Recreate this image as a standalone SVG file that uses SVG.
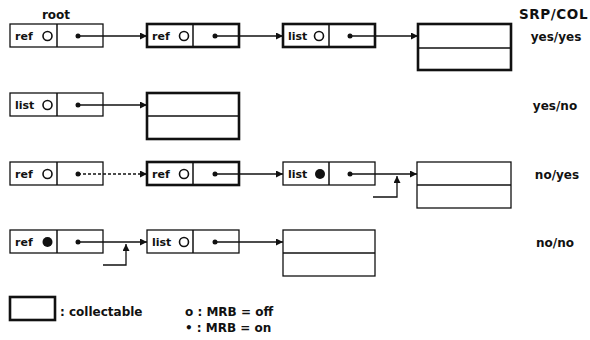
<svg xmlns="http://www.w3.org/2000/svg" width="590" height="340" viewBox="0 0 590 340">
<style>
text{font-family:"DejaVu Sans","Liberation Sans",sans-serif;font-weight:bold;fill:#111}
.n{fill:#fff;stroke:#111;stroke-width:1.3}
.t{fill:#fff;stroke:#111;stroke-width:2.6}
.d{stroke:#111;stroke-width:1.5}
.lbl{font-size:11px}
.side{font-size:12px}
.off{fill:#fff;stroke:#111;stroke-width:1.6}
.on{fill:#111}
.dot{fill:#111}
.c{fill:none;stroke:#111;stroke-width:1.3}
.dash{stroke-dasharray:3 2}
</style>
<defs>
<marker id="ah" viewBox="0 0 10 10" refX="10" refY="5" markerWidth="9" markerHeight="7" markerUnits="userSpaceOnUse" orient="auto">
<path d="M0,0 L10,5 L0,10 z" fill="#111"/>
</marker>
</defs>
<rect width="590" height="340" fill="#fff"/>

<text x="56" y="19" class="side" text-anchor="middle">root</text>

<!-- Row 1 -->
<g id="r1a"><rect class="n" x="10" y="24" width="93" height="23"/><line class="d" x1="57" y1="24" x2="57" y2="47"/><text class="lbl" x="15" y="40">ref</text><circle class="off" cx="47.5" cy="36" r="4.5"/><circle class="dot" cx="78" cy="36" r="2.5"/></g>
<g id="r1b"><rect class="t" x="147" y="24" width="92" height="23"/><line class="d" x1="193" y1="24" x2="193" y2="47"/><text class="lbl" x="152" y="40">ref</text><circle class="off" cx="184" cy="36" r="4.5"/><circle class="dot" cx="215" cy="36" r="2.5"/></g>
<g id="r1c"><rect class="t" x="283" y="24" width="92" height="23"/><line class="d" x1="329" y1="24" x2="329" y2="47"/><text class="lbl" x="288" y="40">list</text><circle class="off" cx="319" cy="36" r="4.5"/><circle class="dot" cx="350" cy="36" r="2.5"/></g>
<g id="r1d"><rect class="t" x="418" y="24" width="93" height="46"/><line class="d" x1="418" y1="48" x2="511" y2="48"/></g>
<text x="519" y="19" style="font-size:13.5px;letter-spacing:0.6px">SRP/COL</text>
<text class="side" x="556" y="41" text-anchor="middle">yes/yes</text>

<!-- Row 2 -->
<g id="r2a"><rect class="n" x="10" y="93" width="93" height="23"/><line class="d" x1="57" y1="93" x2="57" y2="116"/><text class="lbl" x="15" y="109">list</text><circle class="off" cx="47.5" cy="105" r="4.5"/><circle class="dot" cx="78" cy="105" r="2.5"/></g>
<g id="r2b"><rect class="t" x="147" y="93" width="92" height="46"/><line class="d" x1="147" y1="116" x2="239" y2="116"/></g>
<text class="side" x="555" y="110" text-anchor="middle">yes/no</text>

<!-- Row 3 -->
<g id="r3a"><rect class="n" x="10" y="162" width="93" height="23"/><line class="d" x1="57" y1="162" x2="57" y2="185"/><text class="lbl" x="15" y="178">ref</text><circle class="off" cx="47.5" cy="174" r="4.5"/><circle class="dot" cx="78" cy="174" r="2.5"/></g>
<g id="r3b"><rect class="t" x="147" y="162" width="92" height="23"/><line class="d" x1="193" y1="162" x2="193" y2="185"/><text class="lbl" x="152" y="178">ref</text><circle class="off" cx="184" cy="174" r="4.5"/><circle class="dot" cx="215" cy="174" r="2.5"/></g>
<g id="r3c"><rect class="n" x="283" y="162" width="92" height="23"/><line class="d" x1="329" y1="162" x2="329" y2="185"/><text class="lbl" x="288" y="178">list</text><circle class="on" cx="320" cy="174" r="5"/><circle class="dot" cx="350" cy="174" r="2.5"/></g>
<g id="r3d"><rect class="n" x="417" y="162" width="94" height="46"/><line class="d" x1="417" y1="185" x2="511" y2="185"/></g>
<text class="side" x="557" y="179" text-anchor="middle">no/yes</text>

<!-- Row 4 -->
<g id="r4a"><rect class="n" x="10" y="230" width="93" height="23"/><line class="d" x1="57" y1="230" x2="57" y2="253"/><text class="lbl" x="15" y="246">ref</text><circle class="on" cx="47.5" cy="242" r="5"/><circle class="dot" cx="78" cy="242" r="2.5"/></g>
<g id="r4b"><rect class="n" x="147" y="230" width="92" height="23"/><line class="d" x1="193" y1="230" x2="193" y2="253"/><text class="lbl" x="152" y="246">list</text><circle class="off" cx="184" cy="242" r="4.5"/><circle class="dot" cx="215" cy="242" r="2.5"/></g>
<g id="r4c"><rect class="n" x="283" y="230" width="92" height="46"/><line class="d" x1="283" y1="253" x2="375" y2="253"/></g>
<text class="side" x="555" y="247" text-anchor="middle">no/no</text>

<!-- Connectors -->
<g id="connectors">
<line class="c" x1="78" y1="36" x2="147" y2="36" marker-end="url(#ah)"/>
<line class="c" x1="215" y1="36" x2="283" y2="36" marker-end="url(#ah)"/>
<line class="c" x1="350" y1="36" x2="418" y2="36" marker-end="url(#ah)"/>
<line class="c" x1="78" y1="105" x2="147" y2="105" marker-end="url(#ah)"/>
<line class="c dash" x1="78" y1="174" x2="147" y2="174" marker-end="url(#ah)"/>
<line class="c" x1="215" y1="174" x2="283" y2="174" marker-end="url(#ah)"/>
<line class="c" x1="350" y1="174" x2="417" y2="174" marker-end="url(#ah)"/>
<polyline class="c" points="373,197 397,197 397,176" marker-end="url(#ah)"/>
<line class="c" x1="78" y1="242" x2="147" y2="242" marker-end="url(#ah)"/>
<polyline class="c" points="103,265 126,265 126,244" marker-end="url(#ah)"/>
<line class="c" x1="215" y1="242" x2="283" y2="242" marker-end="url(#ah)"/>
</g>

<!-- Legend -->
<g id="legend">
<rect class="t" x="10" y="297" width="45" height="23"/>
<text class="side" x="60" y="316">: collectable</text>
<text class="side" x="185" y="316">o : MRB = off</text>
<text class="side" x="185" y="332">• : MRB = on</text>
</g>
</svg>
